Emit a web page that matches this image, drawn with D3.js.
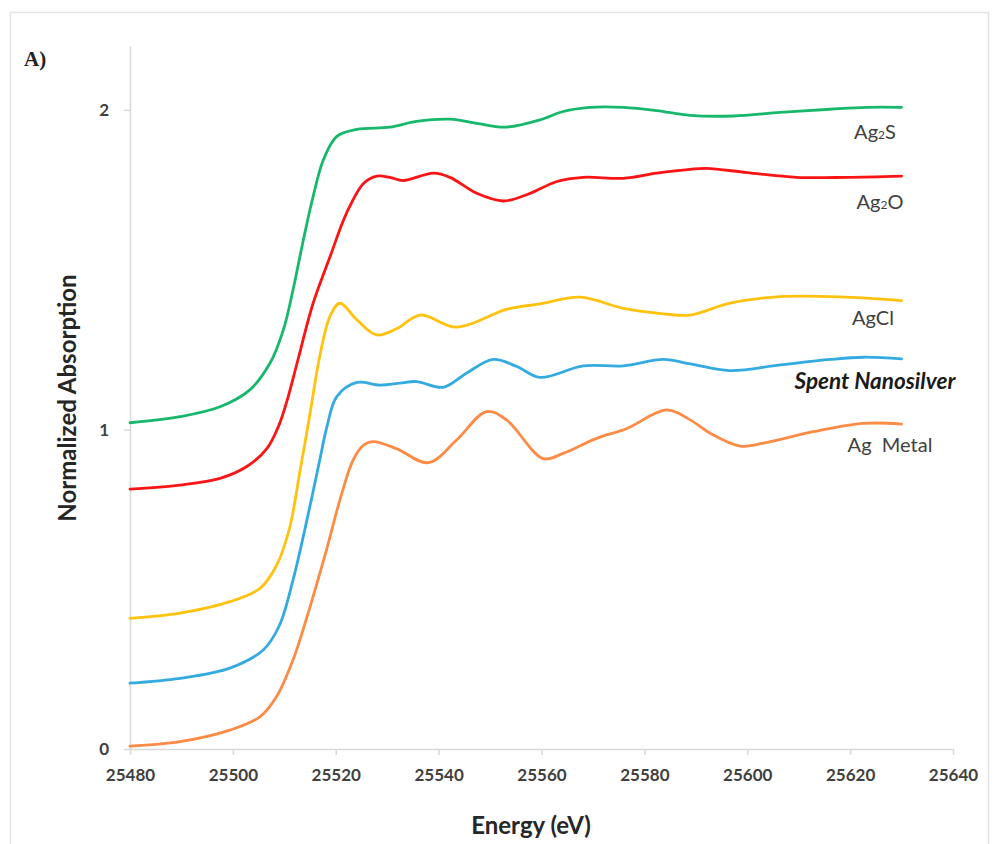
<!DOCTYPE html>
<html>
<head>
<meta charset="utf-8">
<script src="https://cdn.jsdelivr.net/npm/d3@7"></script>
<style>
  html, body { margin: 0; padding: 0; background: #fff; }
  svg { display: block; }
</style>
</head>
<body>
<svg id="chart" width="995" height="844"></svg>
<script>
// ---- Data ----
const xTicks = [25480, 25500, 25520, 25540, 25560, 25580, 25600, 25620, 25640];
const yTicks = [0, 1, 2];

// [energy (eV), normalized absorption]
const ag2S = [
  [25480, 1.021], [25489.7, 1.040], [25497.5, 1.071], [25503.3, 1.124], [25507.2, 1.207],
  [25509.8, 1.311], [25511.7, 1.437], [25513.7, 1.593], [25515.6, 1.729], [25517.6, 1.844],
  [25520.2, 1.917], [25524.1, 1.939], [25530.5, 1.946], [25535.7, 1.964], [25542.2, 1.971],
  [25547.4, 1.958], [25552.9, 1.946], [25559.7, 1.969], [25564.2, 1.995], [25569.4, 2.008],
  [25575.9, 2.008], [25582.4, 1.998], [25588.9, 1.983], [25597.3, 1.981], [25606.4, 1.992],
  [25616.1, 2.002], [25623.2, 2.008], [25630, 2.008]
];
const ag2O = [
  [25480, 0.813], [25489.7, 0.826], [25497.5, 0.847], [25502.7, 0.884], [25506.6, 0.940],
  [25509.0, 1.015], [25510.8, 1.105], [25512.6, 1.215], [25515.6, 1.395], [25518.9, 1.541],
  [25522.1, 1.677], [25525.4, 1.770], [25528, 1.793], [25530.5, 1.789], [25533.1, 1.779],
  [25539, 1.802], [25542.2, 1.789], [25547.4, 1.739], [25552.6, 1.715], [25557.8, 1.739],
  [25563, 1.776], [25568.1, 1.789], [25575.9, 1.786], [25582.4, 1.802], [25588.9, 1.814],
  [25592.1, 1.817], [25599.9, 1.804], [25609.6, 1.789], [25619.3, 1.789], [25630, 1.793]
];
const agCl = [
  [25480, 0.409], [25489.7, 0.425], [25499.4, 0.461], [25505.3, 0.503], [25508.5, 0.575],
  [25511.0, 0.690], [25513, 0.865], [25515, 1.050], [25516.9, 1.230], [25518.9, 1.355],
  [25520.8, 1.395], [25524.1, 1.343], [25528, 1.296], [25531.8, 1.315], [25536.4, 1.358],
  [25543.5, 1.320], [25553.2, 1.376], [25559.7, 1.393], [25567.5, 1.414], [25575.9, 1.379],
  [25583.7, 1.362], [25588.9, 1.358], [25596.6, 1.395], [25606.4, 1.416], [25619.3, 1.414],
  [25630, 1.403]
];
const spentNanosilver = [
  [25480, 0.206], [25489.7, 0.221], [25499.4, 0.253], [25505.9, 0.310], [25509.0, 0.385],
  [25511.7, 0.529], [25514.4, 0.717], [25516.9, 0.905], [25518.3, 1.010], [25520.2, 1.103],
  [25524.1, 1.147], [25528.6, 1.139], [25532.5, 1.145], [25535.7, 1.150], [25540.9, 1.132],
  [25545.4, 1.176], [25550.6, 1.219], [25555.2, 1.197], [25559.7, 1.163], [25568.1, 1.199],
  [25575.9, 1.199], [25583.7, 1.219], [25589, 1.205], [25596.6, 1.184], [25606.4, 1.202],
  [25616.1, 1.219], [25622.6, 1.226], [25630, 1.221]
];
const agMetal = [
  [25480, 0.009], [25489.7, 0.023], [25499.4, 0.059], [25505.3, 0.101], [25508.5, 0.164],
  [25511.7, 0.279], [25515, 0.445], [25518.2, 0.623], [25520.8, 0.779], [25523.4, 0.905],
  [25525.4, 0.951], [25527.3, 0.962], [25531.8, 0.940], [25538, 0.896], [25543.5, 0.967],
  [25549.3, 1.056], [25553.2, 1.030], [25560.3, 0.909], [25564.2, 0.925], [25570.7, 0.972],
  [25576.6, 1.003], [25584.3, 1.061], [25588.9, 1.030], [25592.8, 0.988], [25598.6, 0.948],
  [25603.1, 0.957], [25612.8, 0.993], [25622.6, 1.019], [25630, 1.017]
];

const seriesNames = ["Ag2S", "Ag2O", "AgCl", "Spent Nanosilver", "Ag  Metal"];
const seriesData = [ag2S, ag2O, agCl, spentNanosilver, agMetal];
const seriesColors = ["#17b86b", "#fb1414", "#ffc20e", "#33abe0", "#fb8b45"];

// ---- Layout ----
const svg = d3.select("#chart");
const x = d3.scaleLinear().domain([25480, 25640]).range([130, 953]);
const y = d3.scaleLinear().domain([0, 2.2]).range([749, 46]);
const axisColor = "#d9d9d9";
const textColor = "#404040";
const font = "Lato, 'Open Sans', sans-serif";

// outer frame
svg.append("rect")
  .attr("x", 10.5).attr("y", 12.5).attr("width", 978).attr("height", 860)
  .attr("fill", "none").attr("stroke", "#e3e3e3").attr("stroke-width", 1.5);

// panel label
svg.append("text")
  .attr("x", 24).attr("y", 66)
  .attr("font-family", "'Liberation Serif', 'Times New Roman', serif")
  .attr("font-weight", "bold").attr("font-size", 21)
  .attr("fill", "#222").text("A)");

// axes
const xAxis = d3.axisBottom(x).tickValues(xTicks).tickFormat(d3.format("d")).tickSize(6).tickSizeOuter(0);
const gx = svg.append("g").attr("transform", `translate(0,${y(0)})`).call(xAxis);
const yAxis = d3.axisLeft(y).tickValues(yTicks).tickFormat(d3.format("d")).tickSize(6).tickSizeOuter(0);
const gy = svg.append("g").attr("transform", `translate(${x(25480)},0)`).call(yAxis);

[gx, gy].forEach(g => {
  g.select(".domain").attr("stroke", axisColor).attr("stroke-width", 1.5);
  g.selectAll(".tick line").attr("stroke", axisColor).attr("stroke-width", 1.5);
  g.selectAll(".tick text")
    .attr("font-family", font).attr("font-weight", "bold")
    .attr("font-size", 17).attr("fill", textColor);
});
gx.selectAll(".tick text").attr("dy", "1.35em");
gy.selectAll(".tick text").attr("x", -21).attr("dy", "0.35em");

// axis titles
svg.append("text")
  .attr("x", 531).attr("y", 834)
  .attr("text-anchor", "middle")
  .attr("font-family", font).attr("font-weight", "bold").attr("font-size", 24)
  .attr("fill", "#262626").text("Energy (eV)");

svg.append("text")
  .attr("transform", "translate(76,398) rotate(-90)")
  .attr("text-anchor", "middle")
  .attr("font-family", font).attr("font-weight", "bold").attr("font-size", 24)
  .attr("fill", "#262626").text("Normalized Absorption");

// lines
const line = d3.line()
  .x(d => x(d[0])).y(d => y(d[1]))
  .curve(d3.curveCatmullRom.alpha(0.5));

svg.append("g").selectAll("path")
  .data(seriesData)
  .join("path")
  .attr("d", line)
  .attr("fill", "none")
  .attr("stroke", (d, i) => seriesColors[i])
  .attr("stroke-width", 2.8)
  .attr("stroke-linejoin", "round")
  .attr("stroke-linecap", "round");

// series labels
const labelPos = [
  { cx: 875, by: 139 },
  { cx: 880, by: 209 },
  { cx: 873, by: 325 },
  { cx: 875, by: 389 },
  { cx: 890, by: 452 }
];
const lg = svg.append("g")
  .attr("font-family", font).attr("font-size", 20).attr("fill", textColor);

function addLabel(i) {
  const t = lg.append("text")
    .attr("x", labelPos[i].cx).attr("y", labelPos[i].by)
    .attr("text-anchor", "middle");
  const name = seriesNames[i];
  if (name === "Ag2S" || name === "Ag2O") {
    t.append("tspan").text("Ag");
    t.append("tspan").attr("font-size", 12).text("2");
    t.append("tspan").text(name.slice(3));
  } else if (name === "Spent Nanosilver") {
    t.attr("font-weight", "bold").attr("font-style", "italic").attr("fill", "#1a1a1a")
      .attr("font-size", 22.5).text(name);
  } else {
    t.attr("xml:space", "preserve").style("white-space", "pre").text(name);
  }
}
seriesNames.forEach((n, i) => addLabel(i));
</script>
</body>
</html>
